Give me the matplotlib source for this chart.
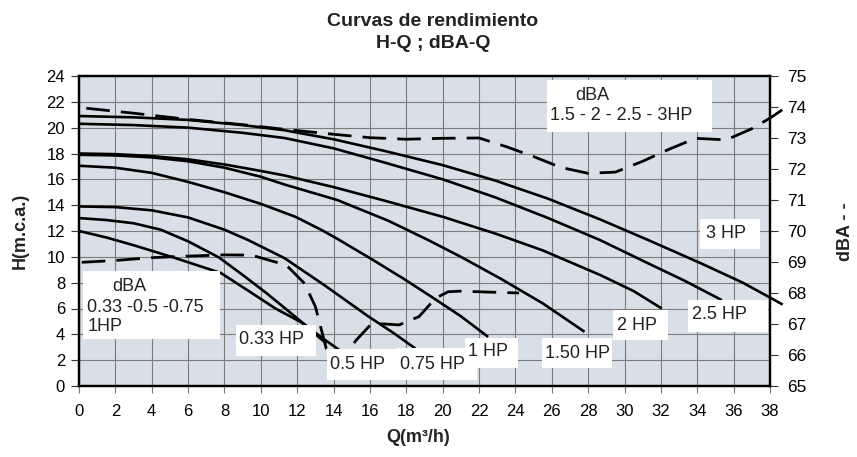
import matplotlib
matplotlib.use('Agg')
import matplotlib.pyplot as plt
from matplotlib.patches import Rectangle

plt.rcParams['font.family'] = ['Liberation Sans', 'DejaVu Sans']

# ---------------- data ----------------
q_033 = [0, 1.5, 3, 5.2, 7.8, 9.5, 10.8, 12.2, 13.6]
h_033 = [12.0, 11.5, 10.9, 9.95, 8.75, 7.2, 6.0, 4.95, 3.3]

q_05 = [0, 1.5, 3, 4.5, 6, 7.7, 9, 10.3, 11.3, 12.2, 13.3, 14.4]
h_05 = [13.0, 12.85, 12.6, 12.1, 11.2, 9.95, 8.6, 7.2, 6.05, 5.0, 3.8, 2.7]

q_075 = [0, 2, 4, 6, 8, 9.3, 11.3, 13.5, 15.9, 17.3, 18.5]
h_075 = [13.9, 13.85, 13.6, 13.05, 12.1, 11.3, 9.9, 7.8, 5.4, 4.1, 2.9]

q_1 = [0, 2, 4, 6, 8, 10, 11.9, 13.35, 14.2, 16, 17.8, 19.5, 21, 22.5]
h_1 = [17.05, 16.9, 16.5, 15.8, 15.0, 14.1, 13.1, 12.07, 11.4, 9.9, 8.35, 6.8, 5.4, 3.8]

q_15 = [0, 2, 4, 6, 8, 10, 11.3, 14.2, 17, 19.2, 21, 23.2, 25.5, 27.8]
h_15 = [17.9, 17.85, 17.7, 17.4, 16.9, 16.2, 15.6, 14.4, 12.8, 11.3, 10.0, 8.3, 6.4, 4.2]

q_2 = [0, 2, 4, 6, 8, 10, 11.3, 14, 16.8, 20, 22.9, 25.5, 28.65, 30.5, 32.05]
h_2 = [18.0, 17.95, 17.8, 17.55, 17.15, 16.65, 16.3, 15.4, 14.35, 13.1, 11.8, 10.5, 8.6, 7.35, 6.0]

q_25 = [0, 3, 6, 9, 11.3, 14, 16.8, 20, 22.9, 25.8, 28.65, 31, 33.3, 35.35]
h_25 = [20.3, 20.2, 20.0, 19.6, 19.2, 18.4, 17.3, 16.0, 14.6, 13.0, 11.3, 9.7, 8.15, 6.65]

q_3 = [0, 3, 6, 9, 11.3, 14, 16.8, 20, 22.9, 25.8, 28.65, 31.3, 34.2, 36.5, 38, 38.7]
h_3 = [20.9, 20.8, 20.6, 20.2, 19.8, 19.1, 18.2, 17.1, 15.9, 14.5, 12.9, 11.3, 9.5, 8.0, 6.85, 6.3]

q_dba_low = [0.15, 2, 4, 6, 8, 9.5, 10.8, 11.4, 12.4, 13.0, 13.6, 14.3, 15.2, 16.1, 16.8,
             17.6, 18.7, 19.6, 20.3, 21, 22.5, 24.2]
dba_low = [68.99, 69.05, 69.14, 69.19, 69.23, 69.22, 69.0, 68.9, 68.31, 67.56, 66.2, 65.7,
           66.45, 67.02, 67.0, 66.97, 67.24, 67.83, 68.04, 68.06, 68.03, 68.0]

q_dba_high = [0.4, 3, 6, 9, 11.3, 14, 16, 18, 20, 22, 23.5, 25, 26.5, 28, 29.5, 31, 32.5,
              33.9, 35.6, 37, 38, 38.9]
dba_high = [73.96, 73.8, 73.6, 73.43, 73.28, 73.12, 73.01, 72.96, 72.99, 73.0, 72.72, 72.4,
            72.05, 71.86, 71.9, 72.25, 72.65, 72.99, 72.94, 73.3, 73.64, 74.0]

x_ticks = list(range(0, 40, 2))
h_ticks = list(range(0, 26, 2))
dba_ticks = list(range(65, 76))

curves = [(q_033, h_033), (q_05, h_05), (q_075, h_075), (q_1, h_1),
          (q_15, h_15), (q_2, h_2), (q_25, h_25), (q_3, h_3)]

# ---------------- figure ----------------
W, H = 857, 457
fig = plt.figure(figsize=(W / 100, H / 100), dpi=100)
L, R, T, B = 79, 770, 76, 386
ax = fig.add_axes([L / W, 1 - B / H, (R - L) / W, (B - T) / H])
ax.set_xlim(0, 38)
ax.set_ylim(0, 24)
ax.set_facecolor('#d9dfe7')
ax.set_axisbelow(True)
ax.grid(True, color='#7c7c7c', lw=0.8)

ax.set_xticks(x_ticks)
ax.set_xticklabels([str(t) for t in x_ticks], fontsize=12,
                   family=['Liberation Sans Narrow', 'Liberation Sans'])
ax.set_yticks(h_ticks)
ax.set_yticklabels([str(t) for t in h_ticks], fontsize=12)
ax.tick_params(axis='x', length=5, width=0.8, color='#777777', pad=8)
ax.tick_params(axis='y', length=6, width=0.8, color='#333333', pad=4)
for s in ax.spines.values():
    s.set_linewidth(1.6)
    s.set_color('black')

for q, h in curves:
    ax.plot(q, h, color='black', lw=1.9, solid_capstyle='butt', zorder=3,
            clip_on=False)

ax2 = ax.twinx()
ax2.set_ylim(65, 75)
ax2.set_yticks(dba_ticks)
ax2.set_yticklabels([str(t) for t in dba_ticks], fontsize=12.5)
ax2.tick_params(axis='y', length=6, width=0.8, color='#333333', pad=6)
for s in ax2.spines.values():
    s.set_linewidth(1.6)

dash = (0, (8.5, 4.0))
ax2.plot(q_dba_low, dba_low, color='black', lw=2.0, ls=dash, zorder=3)
ax2.plot(q_dba_high, dba_high, color='black', lw=2.0, ls=dash, zorder=3,
         clip_on=False)

# ---------------- label boxes ----------------
def box(x0, y0, x1, y1):
    ax2.add_patch(Rectangle((x0, y0), x1 - x0, y1 - y0, transform=ax.transData,
                            facecolor='white', edgecolor='none', zorder=5,
                            clip_on=False))

def lab(x, y, s, **kw):
    ax2.text(x, y, s, transform=ax.transData, fontsize=13, ha='left',
             va='center', color='#222222', zorder=6, **kw)

box(0.22, 3.64, 7.76, 8.9)
lab(1.85, 7.74, 'dBA')
lab(0.45, 6.04, '0.33 -0.5 -0.75')
lab(0.45, 4.59, '1HP')

box(8.64, 2.32, 13.04, 4.72)
lab(8.8, 3.6, '0.33 HP')
box(13.62, 0.46, 17.48, 2.84)
lab(13.8, 1.66, '0.5 HP')
box(17.48, 0.46, 21.88, 2.94)
lab(17.66, 1.66, '0.75 HP')
box(21.23, 1.37, 24.16, 3.69)
lab(21.4, 2.66, '1 HP')
box(25.45, 1.37, 29.3, 3.69)
lab(25.63, 2.53, '1.50 HP')
box(29.39, 3.56, 32.41, 5.88)
lab(29.58, 4.72, '2 HP')
box(33.5, 4.2, 37.9, 6.66)
lab(33.7, 5.5, '2.5 HP')
box(34.16, 10.58, 37.46, 12.9)
lab(34.5, 11.8, '3 HP')
box(25.73, 19.7, 34.8, 23.7)
lab(27.3, 22.5, 'dBA')
lab(25.9, 20.97, '1.5 - 2 - 2.5 - 3HP')

# ---------------- texts ----------------
fig.text(433 / W, 1 - 21 / H, 'Curvas de rendimiento', ha='center', va='center',
         fontsize=14, fontweight='bold', color='#222222')
fig.text(433 / W, 1 - 43 / H, 'H-Q ; dBA-Q', ha='center', va='center',
         fontsize=14, fontweight='bold', color='#222222')
fig.text(20 / W, 1 - 231 / H, 'H(m.c.a.)', rotation=90, ha='center', va='center',
         fontsize=13, fontweight='bold', color='#222222')
fig.text(846 / W, 1 - 232 / H, 'dBA - -', rotation=90, ha='center', va='center',
         fontsize=13, fontweight='bold', color='#222222')
fig.text(418 / W, 1 - 438 / H, 'Q(m³/h)', ha='center', va='center',
         fontsize=13, fontweight='bold', color='#222222',
         family=['Liberation Sans Narrow', 'Liberation Sans'])

fig.savefig('out.png', dpi=100)
